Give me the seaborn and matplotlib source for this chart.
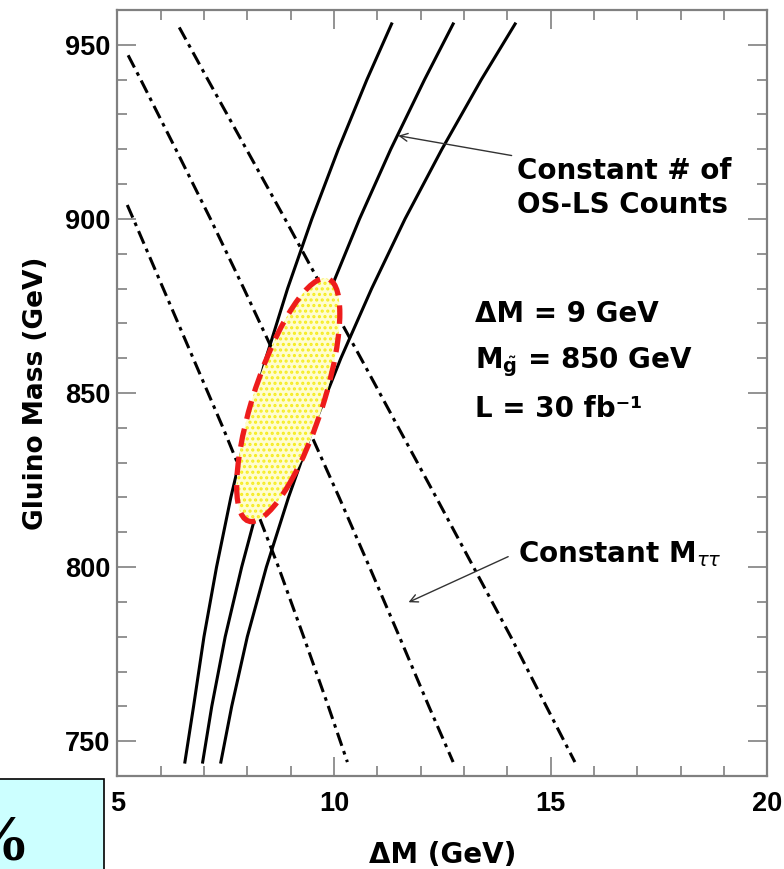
import numpy as np
import pandas as pd
import matplotlib
matplotlib.use("Agg")
import matplotlib.pyplot as plt
import seaborn as sns
from matplotlib.patches import Ellipse, Rectangle
from matplotlib.transforms import Affine2D
from matplotlib.ticker import MultipleLocator

# ---------------- data ----------------
# Constant # of OS-LS counts (solid curves): gluino mass vs Delta M
MG_COUNT = [956, 940, 920, 900, 880, 860, 840, 820, 800, 780, 760, 744]
DM_COUNT_1 = [11.33, 10.76, 10.10, 9.49, 8.93, 8.43, 8.00, 7.62, 7.29, 7.00, 6.76, 6.56]
DM_COUNT_2 = [12.75, 12.09, 11.31, 10.59, 9.93, 9.33, 8.78, 8.30, 7.87, 7.49, 7.18, 6.97]
DM_COUNT_3 = [14.18, 13.40, 12.49, 11.64, 10.87, 10.16, 9.52, 8.95, 8.44, 8.00, 7.64, 7.39]

# Constant M_tautau (dash-dot curves)
MG_MTT_1 = [904, 900, 880, 860, 840, 820, 800, 780, 760, 744]
DM_MTT_1 = [5.23, 5.37, 6.06, 6.75, 7.44, 8.10, 8.72, 9.30, 9.87, 10.31]
MG_MTT_2 = [947, 940, 920, 900, 880, 860, 840, 820, 800, 780, 760, 744]
DM_MTT_2 = [5.25, 5.54, 6.35, 7.15, 7.92, 8.67, 9.40, 10.12, 10.82, 11.51, 12.19, 12.75]
MG_MTT_3 = [955, 940, 920, 900, 880, 860, 840, 820, 800, 780, 760, 744]
DM_MTT_3 = [6.43, 7.09, 7.98, 8.87, 9.74, 10.62, 11.49, 12.36, 13.22, 14.08, 14.90, 15.56]

# 1-sigma contour (ellipse): centre and conjugate semi-axes in data units
FIT_DM = 8.945
FIT_MG = 848.0
AXIS_U = (1.19, 24.8)   # (dDM, dMG) for t = 0
AXIS_V = (0.0, 24.6)    # (dDM, dMG) for t = 90 deg

X_TICKS = [5, 10, 15, 20]
Y_TICKS = [750, 800, 850, 900, 950]

# ---------------- figure ----------------
plt.rcParams["font.family"] = "DejaVu Sans"
plt.rcParams["mathtext.fontset"] = "dejavusans"
plt.rcParams["hatch.linewidth"] = 1.5

fig = plt.figure(figsize=(7.84, 8.69), dpi=100)
ax = fig.add_axes([117.3 / 784, 93 / 869, 650 / 784, 766 / 869])
ax.set_facecolor("white")

frames = []
for i, (dm, mg) in enumerate([(DM_COUNT_1, MG_COUNT), (DM_COUNT_2, MG_COUNT), (DM_COUNT_3, MG_COUNT)]):
    frames.append(pd.DataFrame({"dm": dm, "mg": mg, "curve": f"count{i}", "kind": "count"}))
for i, (dm, mg) in enumerate([(DM_MTT_1, MG_MTT_1), (DM_MTT_2, MG_MTT_2), (DM_MTT_3, MG_MTT_3)]):
    frames.append(pd.DataFrame({"dm": dm, "mg": mg, "curve": f"mtt{i}", "kind": "mtt"}))
df = pd.concat(frames, ignore_index=True)

for name, sub in df.groupby("curve"):
    if sub["kind"].iloc[0] == "count":
        sns.lineplot(data=sub, x="dm", y="mg", ax=ax, color="black", lw=2.2,
                     estimator=None, sort=False, legend=False, zorder=3)
    else:
        sns.lineplot(data=sub, x="dm", y="mg", ax=ax, color="black", lw=2.2,
                     estimator=None, sort=False, legend=False, zorder=3,
                     linestyle=(0, (4.5, 1.8, 1.2, 1.8)))

# ellipse (unit circle mapped with affine transform into data space)
M = np.array([[AXIS_U[0], AXIS_V[0], FIT_DM],
              [AXIS_U[1], AXIS_V[1], FIT_MG],
              [0, 0, 1]])
tr = Affine2D(M) + ax.transData
fill = Ellipse((0, 0), 2, 2, transform=tr, facecolor="#fffdd0",
               edgecolor="#f6ec20", lw=0, hatch="...", zorder=4)
ax.add_patch(fill)
outline = Ellipse((0, 0), 2, 2, transform=tr, fill=False, edgecolor="#ee1c1c",
                  lw=3.8, linestyle=(0, (3.5, 1.9)), zorder=5)
ax.add_patch(outline)

# axes
ax.set_xlim(5, 20)
ax.set_ylim(740, 960)
ax.set_xticks(X_TICKS, labels=[str(v) for v in X_TICKS], fontsize=19.5,
              fontweight="bold", fontfamily="Liberation Sans")
ax.set_yticks(Y_TICKS, labels=[str(v) for v in Y_TICKS], fontsize=19.5,
              fontweight="bold", fontfamily="Liberation Sans")
ax.xaxis.set_minor_locator(MultipleLocator(1))
ax.yaxis.set_minor_locator(MultipleLocator(10))
ax.tick_params(which="both", direction="in", top=True, right=True, color="#808080", width=1.2)
ax.tick_params(which="major", length=14)
ax.tick_params(which="minor", length=7)
ax.tick_params(axis="x", which="major", pad=11)
ax.tick_params(axis="y", which="major", pad=5)
for s in ax.spines.values():
    s.set_color("#808080")
    s.set_linewidth(1.6)

ax.set_xlabel("ΔM (GeV)", fontsize=20, fontweight="bold")
ax.set_ylabel("Gluino Mass (GeV)", fontsize=19, fontweight="bold")
ax.xaxis.set_label_coords(0.5, -0.085)
ax.yaxis.set_label_coords(-0.105, 0.5)

# annotations
tkw = dict(fontsize=20, fontweight="bold", color="black", ha="left", va="baseline", zorder=6)
ax.text(14.22, 911.6, "Constant # of", **tkw)
ax.text(14.22, 901.6, "OS-LS Counts", **tkw)
ax.text(13.26, 870.4, "ΔM = 9 GeV", **tkw)
ax.text(13.26, 857.2, r"M$_{\tilde{\mathbf{g}}}$ = 850 GeV", **tkw)
ax.text(13.26, 843.2, "L = 30 fb⁻¹", **tkw)
ax.text(14.25, 801.3, r"Constant M$_{\tau\tau}$", **tkw)

akw = dict(arrowstyle="->", color="#333333", lw=1.0, mutation_scale=14,
           shrinkA=0, shrinkB=0)
ax.annotate("", xy=(11.485, 923.9), xytext=(14.10, 918.2), arrowprops=akw, zorder=6)
ax.annotate("", xy=(11.72, 789.9), xytext=(14.02, 803.0), arrowprops=akw, zorder=6)

# cropped slide box at bottom left
fig.patches.append(Rectangle((-2 / 784, -2 / 869), 106 / 784, 92 / 869,
                             transform=fig.transFigure, facecolor="#ccffff",
                             edgecolor="black", lw=1.2, zorder=0))
fig.text(-36 / 784, 9 / 869, "%", fontsize=47, fontweight="bold",
         family="Liberation Serif", ha="left", va="baseline")

fig.savefig("out.png", dpi=100)
